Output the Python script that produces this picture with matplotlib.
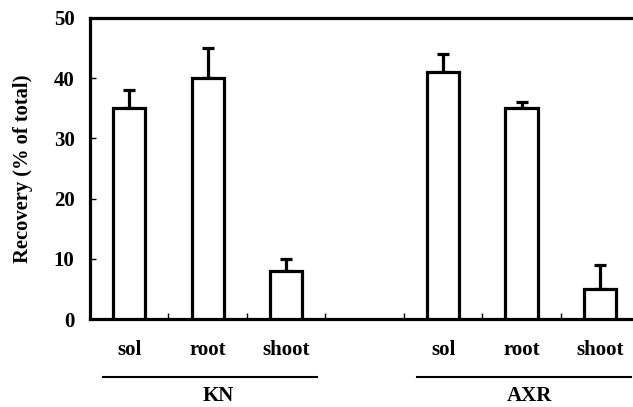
import numpy as np
import matplotlib.pyplot as plt
import matplotlib.transforms as mtransforms

plt.rcParams['font.family'] = ['Liberation Serif', 'DejaVu Serif']
plt.rcParams['font.weight'] = 'bold'

parts = ['sol', 'root', 'shoot']
groups = ['KN', 'AXR']
kn_vals = [35, 40, 8]
kn_err = [3, 5, 2]
axr_vals = [41, 35, 5]
axr_err = [3, 1, 4]

fig = plt.figure(figsize=(6.33, 4.07), dpi=100)
ax = fig.add_axes([0.142, 0.216, 0.858, 0.74])

x_kn = np.arange(3)
x_axr = np.arange(3) + 4

for xs, vals, errs in [(x_kn, kn_vals, kn_err), (x_axr, axr_vals, axr_err)]:
    ax.bar(xs, vals, width=0.41, color='white', edgecolor='black', linewidth=2.3, zorder=3)
    ax.errorbar(xs, vals, yerr=[np.zeros(3), errs], fmt='none', ecolor='black',
                elinewidth=2.3, capsize=4, capthick=2.3, zorder=2)

ax.set_xlim(-0.5, 6.42)
ax.set_ylim(0, 50)
ax.set_yticks([0, 10, 20, 30, 40, 50])
ax.set_xticks(np.arange(6) + 0.5)
ax.set_xticklabels([])
ax.tick_params(axis='both', direction='in', length=4, width=1, labelsize=15)
ax.tick_params(axis='y', pad=11)
for lab in ax.get_yticklabels():
    lab.set_fontweight('bold')

for s in ['left', 'bottom', 'top']:
    ax.spines[s].set_linewidth(2.3)
ax.spines['right'].set_visible(False)

ax.set_ylabel('Recovery (% of total)', fontsize=14.8, fontweight='bold', labelpad=15)

trans = mtransforms.blended_transform_factory(ax.transData, ax.transAxes)
for xs in [x_kn, x_axr]:
    for xi, name in zip(xs, parts):
        ax.text(xi, -0.103, name, transform=trans, ha='center', va='center',
                fontsize=15, fontweight='bold')

for g, xs, dx in zip(groups, [x_kn, x_axr], [0.13, 0.1]):
    ax.plot([xs[0] - 0.33, xs[-1] + 0.4], [-0.193, -0.193], transform=trans,
            color='black', linewidth=1.5, clip_on=False)
    ax.text(xs[1] + dx, -0.255, g, transform=trans, ha='center', va='center',
            fontsize=15, fontweight='bold')

fig.savefig('out.png', dpi=100)
